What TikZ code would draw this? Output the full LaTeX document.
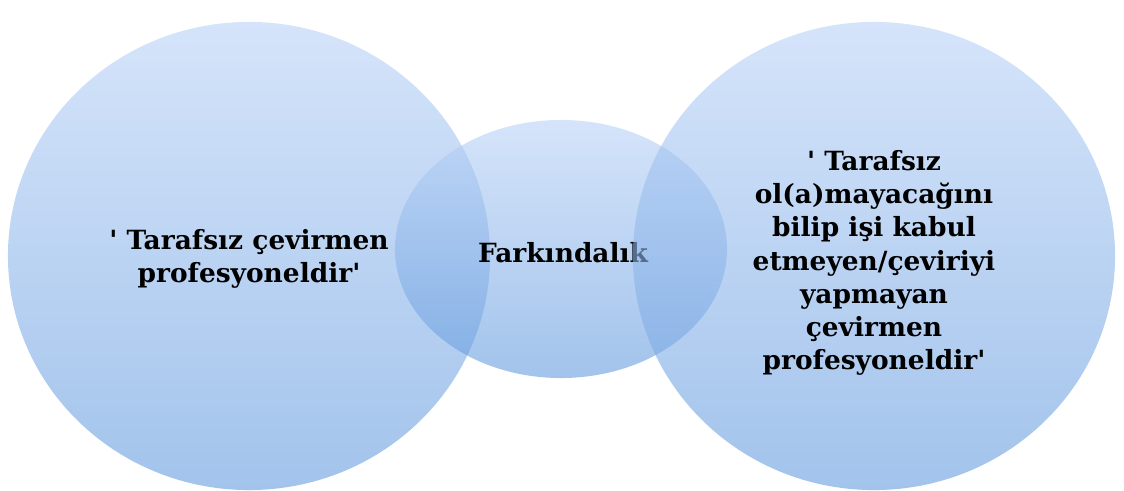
\documentclass[tikz,border=0pt]{standalone}
\usepackage{fontspec}
\setmainfont{DejaVu Serif}[Ligatures=TeXOff]
\usepackage{tikz}
\usetikzlibrary{shapes.geometric}
\usetikzlibrary{positioning}

\definecolor{venntop}{RGB}{185,210,247}
\definecolor{vennbot}{RGB}{100,155,222}

\tikzset{
  venntext/.style = {font=\bfseries\fontsize{18.8}{23.6}\selectfont, align=center},
  venn/.style = {ellipse, inner sep=0pt, top color=venntop, bottom color=vennbot,
                 fill opacity=0.6, draw=none},
}

\begin{document}
\begin{tikzpicture}[x=0.025cm, y=0.025cm]
  \useasboundingbox (0,0) rectangle (1124,491);
  % two big circles and the lens between them
  \node[venn, minimum width=12.05cm, minimum height=11.7cm] (prof) at (249,235) {};
  \node[venntext] (proflbl) at ([yshift=-2pt]prof.center) {' Tarafsız çevirmen\\profesyoneldir'};
  \node[venn, minimum width=8.3cm, minimum height=6.45cm] (fark) at (561,242) {};
  \node[venntext] (farklbl) at ([shift={(2,-4)}]fark.center) {Farkındalık};
  \node[venn, minimum width=12.05cm, minimum height=11.7cm] (ret) at (874,235) {};
  \node[venntext] (retlbl) at ([yshift=-5pt]ret.center)
    {' Tarafsız\\ol(a)mayacağını\\bilip işi kabul\\etmeyen/çeviriyi\\yapmayan\\çevirmen\\profesyoneldir'};
\end{tikzpicture}
\end{document}
